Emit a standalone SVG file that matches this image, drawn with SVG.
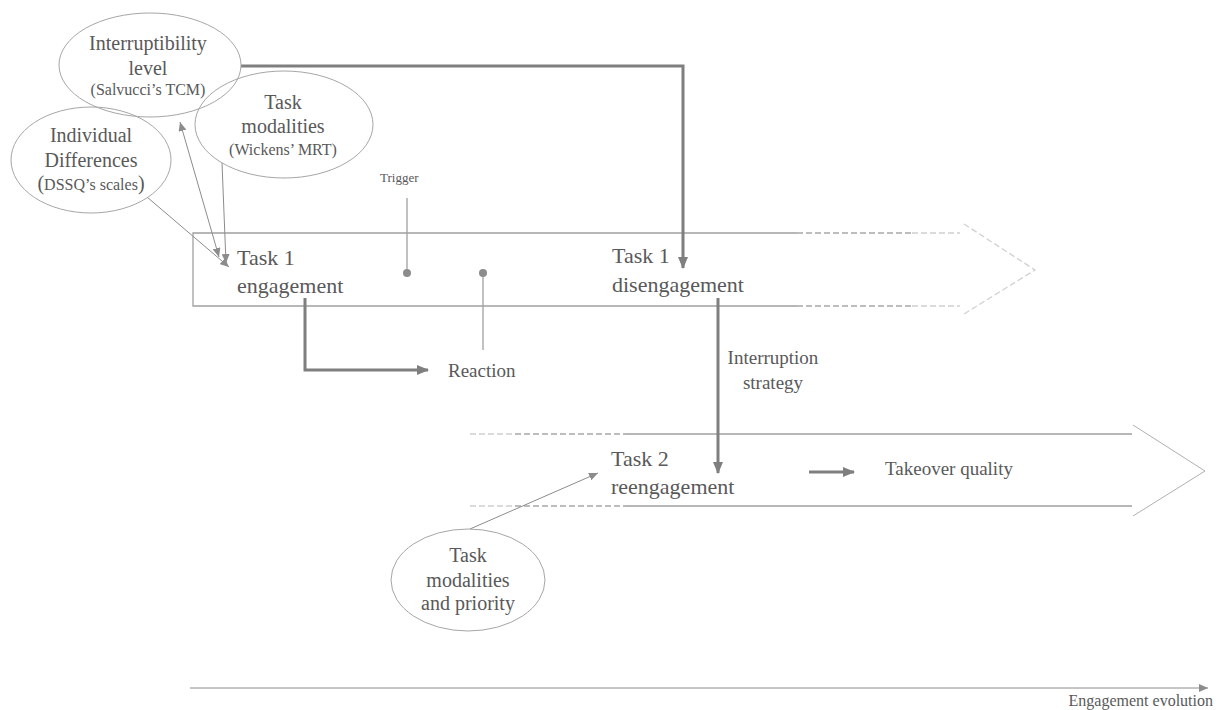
<svg xmlns="http://www.w3.org/2000/svg" width="1218" height="710" viewBox="0 0 1218 710" font-family="'Liberation Serif', 'DejaVu Serif', serif">
<style>
text{font-family:"Liberation Serif","DejaVu Serif",serif;fill:#595959}
.big{font-size:22px}
.mid{font-size:20px}
.sm{font-size:16px}
.lbl{font-size:19px}
.ell{fill:none;stroke:#a6a6a6;stroke-width:1}
.band{stroke:#a0a0a0;stroke-width:1.3;fill:none}
.dash1{stroke:#a8a8a8;stroke-width:1.3;stroke-dasharray:6 3;fill:none}
.dash2{stroke:#d0d0d0;stroke-width:1.3;stroke-dasharray:6 3;fill:none}
.thick{stroke:#7f7f7f;stroke-width:3;fill:none}
.thin{stroke:#8c8c8c;stroke-width:1;fill:none}
</style>
<defs>
<marker id="hb" markerUnits="userSpaceOnUse" markerWidth="12" markerHeight="10" refX="11" refY="5" orient="auto"><path d="M0,0 L12,5 L0,10 Z" fill="#7f7f7f"/></marker>
<marker id="hs" markerUnits="userSpaceOnUse" markerWidth="9" markerHeight="8" refX="9" refY="4" orient="auto"><path d="M0,0 L9,4 L0,8 Z" fill="#8c8c8c"/></marker>
<marker id="hss" markerUnits="userSpaceOnUse" markerWidth="9" markerHeight="8" refX="0" refY="4" orient="auto"><path d="M9,0 L0,4 L9,8 Z" fill="#8c8c8c"/></marker>
</defs>

<g id="band1">
<path class="band" d="M797,233 H193 V306 H797"/>
<path class="dash1" d="M797,233 H912 M797,306 H912"/>
<path class="dash2" d="M912,233 H960 M912,306 H960 M964,224 L1035,270 L964,314"/>
</g>
<g id="band2">
<path class="dash2" d="M470,434 H515 M470,506 H515"/>
<path class="dash1" d="M515,434 H625 M515,506 H625"/>
<path class="band" d="M625,434 H1132 M625,506 H1132"/>
<path d="M1133,425 L1205,471 L1133,516" fill="none" stroke="#b0b0b0" stroke-width="1"/>
</g>
<g id="axis">
<line class="thin" x1="190" y1="688" x2="1208" y2="688" marker-end="url(#hs)" stroke="#a0a0a0"/>
<text x="1213" y="706" text-anchor="end" style="font-size:16px">Engagement evolution</text>
</g>

<g id="connectors">
<path class="thick" d="M241,66 H683 V268" marker-end="url(#hb)"/>
<path class="thick" d="M305,298 V370 H428" marker-end="url(#hb)"/>
<path class="thick" d="M718,298 V473" marker-end="url(#hb)"/>
<path class="thick" d="M809,472 H854" marker-end="url(#hb)"/>
<line class="thin" x1="180" y1="122" x2="219" y2="257" marker-start="url(#hss)" marker-end="url(#hs)"/>
<line class="thin" x1="222" y1="163" x2="226" y2="263" marker-end="url(#hs)"/>
<line class="thin" x1="147" y1="197" x2="229" y2="267" marker-end="url(#hs)"/>
<line class="thin" x1="470" y1="529" x2="598" y2="473" marker-end="url(#hs)"/>
<line x1="407" y1="198" x2="407" y2="273" stroke="#a0a0a0" stroke-width="1.3"/>
<circle cx="407" cy="273" r="4" fill="#8c8c8c"/>
<line x1="483" y1="273" x2="483" y2="350" stroke="#a0a0a0" stroke-width="1.3"/>
<circle cx="483" cy="273" r="4" fill="#8c8c8c"/>
</g>

<g id="interruptibility">
<ellipse class="ell" cx="150" cy="65" rx="91" ry="52"/>
<text class="mid" x="148" y="50" text-anchor="middle">Interruptibility</text>
<text class="mid" x="148" y="75" text-anchor="middle">level</text>
<text class="sm" x="148" y="95" text-anchor="middle">(Salvucci’s TCM)</text>
</g>
<g id="individual">
<ellipse class="ell" cx="91" cy="160" rx="80" ry="53"/>
<text class="mid" x="91" y="142" text-anchor="middle">Individual</text>
<text class="mid" x="91" y="167" text-anchor="middle">Differences</text>
<text x="91" y="190" text-anchor="middle"><tspan style="font-size:20px">(</tspan><tspan style="font-size:16px">DSSQ’s scales</tspan><tspan style="font-size:20px">)</tspan></text>
</g>
<g id="taskmod">
<ellipse class="ell" cx="284" cy="124.5" rx="89" ry="53.5"/>
<text class="mid" x="283" y="109" text-anchor="middle">Task</text>
<text class="mid" x="283" y="133" text-anchor="middle">modalities</text>
<text class="sm" x="283" y="155" text-anchor="middle">(Wickens’ MRT)</text>
</g>
<g id="taskprio">
<ellipse class="ell" cx="468" cy="580" rx="77" ry="51"/>
<text class="mid" x="468" y="562" text-anchor="middle">Task</text>
<text class="mid" x="468" y="587" text-anchor="middle">modalities</text>
<text class="mid" x="468" y="610" text-anchor="middle">and priority</text>
</g>

<g id="t1eng">
<text class="big" x="237" y="265">Task 1</text>
<text class="big" x="237" y="293">engagement</text>
</g>
<g id="t1dis">
<text class="big" x="612" y="263">Task 1</text>
<text class="big" x="612" y="292">disengagement</text>
</g>
<g id="t2re">
<text class="big" x="611" y="466">Task 2</text>
<text class="big" x="611" y="494">reengagement</text>
</g>
<g id="trigger"><text x="380" y="182" style="font-size:13px">Trigger</text></g>
<g id="reaction"><text class="lbl" x="448" y="377">Reaction</text></g>
<g id="strategy">
<text class="lbl" x="773" y="364" text-anchor="middle">Interruption</text>
<text class="lbl" x="773" y="389" text-anchor="middle">strategy</text>
</g>
<g id="takeover"><text class="lbl" x="885" y="475">Takeover quality</text></g>
</svg>
